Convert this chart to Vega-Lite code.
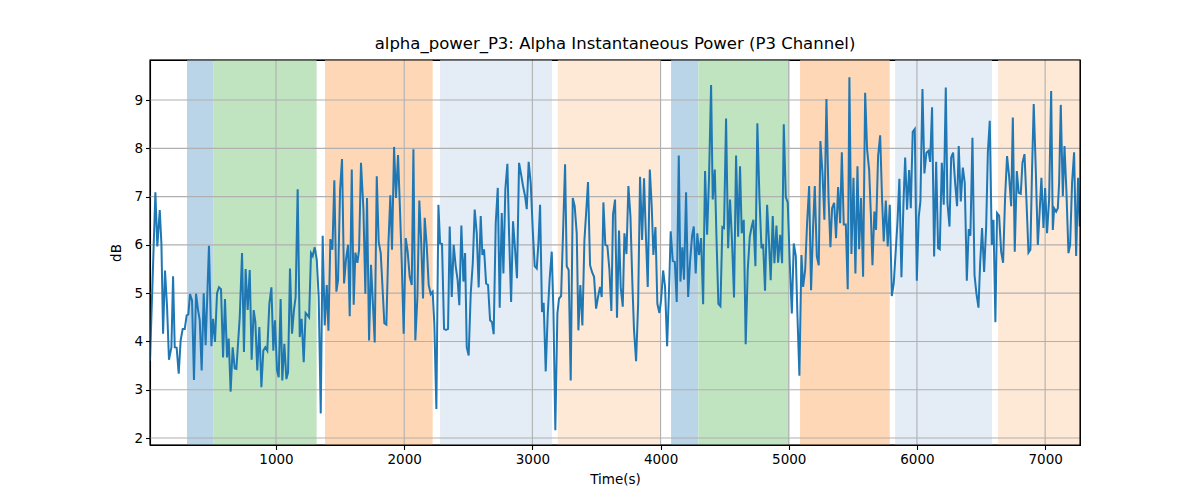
{
  "$schema": "https://vega.github.io/schema/vega-lite/v6.json",
  "width": 930,
  "height": 385,
  "autosize": {"type": "none"},
  "padding": {"left": 150, "top": 60, "right": 120, "bottom": 55},
  "title": {"text": "alpha_power_P3: Alpha Instantaneous Power (P3 Channel)", "font": "DejaVu Sans", "fontSize": 16.5, "fontWeight": "normal", "color": "black", "offset": 7, "anchor": "middle"},
  "config": {
    "view": {"stroke": "black", "strokeWidth": 1.1},
    "axis": {"grid": false, "domainColor": "black", "tickColor": "black", "tickSize": 4.5, "tickWidth": 1.1, "domainWidth": 1.1, "labelFont": "DejaVu Sans", "labelFontSize": 13.5, "labelColor": "black", "titleFont": "DejaVu Sans", "titleFontSize": 13.5, "titleFontWeight": "normal", "titleColor": "black", "labelPadding": 3}
  },
  "datasets": {
    "spans": [
      {"start": 306, "end": 514, "phase": "P1"},
      {"start": 514, "end": 1317, "phase": "P2"},
      {"start": 1382, "end": 2222, "phase": "P3"},
      {"start": 2280, "end": 3153, "phase": "P4"},
      {"start": 3198, "end": 4004, "phase": "P5"},
      {"start": 4082, "end": 4295, "phase": "P1"},
      {"start": 4295, "end": 5005, "phase": "P2"},
      {"start": 5088, "end": 5788, "phase": "P3"},
      {"start": 5830, "end": 6586, "phase": "P4"},
      {"start": 6633, "end": 7272, "phase": "P5"}
    ],
    "xgrid": [{"g": 1000}, {"g": 2000}, {"g": 3000}, {"g": 4000}, {"g": 5000}, {"g": 6000}, {"g": 7000}],
    "ygrid": [{"g": 2}, {"g": 3}, {"g": 4}, {"g": 5}, {"g": 6}, {"g": 7}, {"g": 8}, {"g": 9}],
    "frame": [{"x0": 17, "x1": 7272, "y0": 1.855, "y1": 9.83}],
    "series": [
      {"t":17,"v":3.6},{"t":59,"v":7.09},{"t":74,"v":5.97},{"t":93,"v":6.72},{"t":106,"v":6.03},{"t":119,"v":4.16},{"t":134,"v":5.47},{"t":150,"v":4.72},{"t":165,"v":3.62},{"t":184,"v":3.88},{"t":197,"v":5.35},{"t":210,"v":3.88},{"t":225,"v":3.87},{"t":241,"v":3.33},{"t":256,"v":4.02},{"t":272,"v":4.26},{"t":288,"v":4.26},{"t":303,"v":4.54},{"t":316,"v":4.56},{"t":329,"v":4.98},{"t":345,"v":4.85},{"t":360,"v":3.2},{"t":376,"v":4.99},{"t":392,"v":4.65},{"t":405,"v":4.44},{"t":420,"v":3.4},{"t":436,"v":5.0},{"t":451,"v":3.92},{"t":477,"v":5.98},{"t":496,"v":3.9},{"t":509,"v":4.47},{"t":524,"v":3.99},{"t":540,"v":5.0},{"t":555,"v":5.12},{"t":571,"v":5.08},{"t":587,"v":3.67},{"t":602,"v":4.88},{"t":618,"v":3.67},{"t":631,"v":4.06},{"t":646,"v":2.96},{"t":662,"v":3.88},{"t":678,"v":3.44},{"t":691,"v":3.43},{"t":717,"v":4.5},{"t":735,"v":5.83},{"t":750,"v":3.78},{"t":763,"v":5.5},{"t":779,"v":4.65},{"t":795,"v":5.48},{"t":810,"v":3.62},{"t":826,"v":4.65},{"t":839,"v":4.4},{"t":854,"v":3.4},{"t":870,"v":4.3},{"t":886,"v":3.05},{"t":901,"v":3.81},{"t":917,"v":3.88},{"t":932,"v":3.81},{"t":948,"v":4.78},{"t":964,"v":5.12},{"t":979,"v":3.81},{"t":992,"v":4.44},{"t":1008,"v":3.4},{"t":1021,"v":3.26},{"t":1036,"v":4.88},{"t":1049,"v":3.19},{"t":1065,"v":3.95},{"t":1081,"v":3.22},{"t":1094,"v":3.36},{"t":1109,"v":5.51},{"t":1125,"v":4.16},{"t":1140,"v":4.65},{"t":1153,"v":4.92},{"t":1169,"v":7.15},{"t":1185,"v":4.09},{"t":1200,"v":4.47},{"t":1216,"v":3.57},{"t":1231,"v":4.59},{"t":1244,"v":4.55},
      {"t":1258,"v":4.5},{"t":1273,"v":5.83},{"t":1286,"v":5.77},{"t":1302,"v":5.95},{"t":1318,"v":5.69},{"t":1333,"v":4.92},{"t":1349,"v":2.51},{"t":1364,"v":6.19},{"t":1380,"v":4.33},{"t":1396,"v":5.17},{"t":1409,"v":4.22},{"t":1424,"v":6.12},{"t":1440,"v":5.9},{"t":1455,"v":7.34},{"t":1471,"v":5.03},{"t":1484,"v":5.27},{"t":1500,"v":7.15},{"t":1515,"v":7.78},{"t":1531,"v":5.2},{"t":1546,"v":5.7},{"t":1562,"v":6.0},{"t":1575,"v":4.52},{"t":1591,"v":7.56},{"t":1606,"v":4.76},{"t":1619,"v":5.84},{"t":1635,"v":5.63},{"t":1648,"v":5.9},{"t":1663,"v":7.7},{"t":1682,"v":6.73},{"t":1697,"v":4.99},{"t":1710,"v":6.97},{"t":1726,"v":4.02},{"t":1741,"v":5.59},{"t":1757,"v":4.72},{"t":1770,"v":3.98},{"t":1786,"v":7.42},{"t":1801,"v":6.06},{"t":1817,"v":5.83},{"t":1832,"v":5.06},{"t":1845,"v":4.38},{"t":1861,"v":4.35},{"t":1877,"v":6.03},{"t":1892,"v":7.03},{"t":1905,"v":5.9},{"t":1921,"v":8.03},{"t":1936,"v":6.97},{"t":1952,"v":7.86},{"t":1968,"v":6.66},{"t":1981,"v":5.62},{"t":1996,"v":4.16},{"t":2012,"v":6.14},{"t":2027,"v":5.86},{"t":2043,"v":5.34},{"t":2059,"v":5.17},{"t":2072,"v":7.98},{"t":2087,"v":4.02},{"t":2103,"v":4.92},{"t":2118,"v":6.92},{"t":2131,"v":6.17},{"t":2147,"v":4.89},{"t":2160,"v":6.56},{"t":2176,"v":5.97},{"t":2191,"v":5.17},{"t":2207,"v":4.98},{"t":2222,"v":5.03},{"t":2235,"v":4.37},{"t":2251,"v":2.6},{"t":2267,"v":6.83},{"t":2280,"v":6.03},{"t":2295,"v":6.02},{"t":2311,"v":4.26},{"t":2326,"v":4.24},{"t":2342,"v":4.26},{"t":2355,"v":6.38},{"t":2371,"v":4.92},{"t":2386,"v":6.0},{"t":2402,"v":5.55},{"t":2417,"v":5.27},{"t":2430,"v":4.75},{"t":2446,"v":6.4},{"t":2462,"v":5.24},{"t":2475,"v":5.83},
      {"t":2488,"v":3.88},{"t":2503,"v":3.71},{"t":2519,"v":4.99},{"t":2535,"v":5.62},{"t":2550,"v":6.73},{"t":2566,"v":6.24},{"t":2581,"v":5.12},{"t":2597,"v":6.6},{"t":2610,"v":5.79},{"t":2623,"v":5.91},{"t":2639,"v":5.2},{"t":2654,"v":5.17},{"t":2670,"v":4.44},{"t":2685,"v":4.4},{"t":2698,"v":4.15},{"t":2714,"v":6.45},{"t":2730,"v":7.18},{"t":2745,"v":4.7},{"t":2761,"v":6.66},{"t":2774,"v":5.41},{"t":2789,"v":7.15},{"t":2805,"v":7.68},{"t":2818,"v":6.24},{"t":2834,"v":4.82},{"t":2849,"v":6.49},{"t":2865,"v":5.9},{"t":2880,"v":5.31},{"t":2896,"v":7.7},{"t":2912,"v":7.46},{"t":2927,"v":7.22},{"t":2943,"v":7.01},{"t":2956,"v":6.74},{"t":2971,"v":7.72},{"t":2987,"v":7.28},{"t":3003,"v":6.31},{"t":3018,"v":5.56},{"t":3034,"v":5.51},{"t":3047,"v":6.03},{"t":3060,"v":6.83},{"t":3075,"v":4.61},{"t":3088,"v":4.8},{"t":3104,"v":3.38},{"t":3120,"v":4.58},{"t":3135,"v":5.31},{"t":3151,"v":5.86},{"t":3164,"v":4.65},{"t":3179,"v":2.16},{"t":3195,"v":4.58},{"t":3208,"v":4.89},{"t":3224,"v":4.94},{"t":3239,"v":6.24},{"t":3255,"v":7.67},{"t":3268,"v":5.56},{"t":3283,"v":5.48},{"t":3299,"v":3.19},{"t":3315,"v":6.97},{"t":3330,"v":6.8},{"t":3346,"v":6.24},{"t":3359,"v":4.23},{"t":3374,"v":5.17},{"t":3390,"v":4.33},{"t":3406,"v":6.1},{"t":3421,"v":6.73},{"t":3434,"v":7.3},{"t":3450,"v":5.58},{"t":3465,"v":5.44},{"t":3481,"v":5.34},{"t":3497,"v":4.68},{"t":3512,"v":4.92},{"t":3528,"v":5.13},{"t":3541,"v":4.92},{"t":3554,"v":6.88},{"t":3569,"v":6.0},{"t":3585,"v":5.98},{"t":3601,"v":5.48},{"t":3616,"v":4.63},{"t":3629,"v":6.63},{"t":3645,"v":6.94},{"t":3660,"v":4.49},{"t":3676,"v":6.3},
      {"t":3689,"v":5.12},{"t":3705,"v":4.72},{"t":3718,"v":6.24},{"t":3734,"v":5.81},{"t":3749,"v":7.22},{"t":3765,"v":6.59},{"t":3780,"v":5.2},{"t":3793,"v":4.23},{"t":3809,"v":3.59},{"t":3825,"v":4.78},{"t":3840,"v":7.41},{"t":3856,"v":6.1},{"t":3871,"v":7.38},{"t":3884,"v":6.31},{"t":3900,"v":5.13},{"t":3916,"v":7.56},{"t":3931,"v":6.8},{"t":3944,"v":5.79},{"t":3960,"v":6.37},{"t":3975,"v":4.78},{"t":3991,"v":4.59},{"t":4004,"v":4.85},{"t":4020,"v":5.47},{"t":4035,"v":5.13},{"t":4051,"v":3.9},{"t":4066,"v":5.06},{"t":4079,"v":6.28},{"t":4095,"v":5.67},{"t":4111,"v":5.65},{"t":4126,"v":4.82},{"t":4142,"v":7.85},{"t":4155,"v":5.24},{"t":4170,"v":5.95},{"t":4183,"v":5.28},{"t":4199,"v":7.09},{"t":4215,"v":4.92},{"t":4230,"v":5.65},{"t":4246,"v":6.19},{"t":4259,"v":6.38},{"t":4274,"v":5.41},{"t":4287,"v":6.24},{"t":4300,"v":5.79},{"t":4316,"v":6.14},{"t":4332,"v":4.77},{"t":4347,"v":7.53},{"t":4363,"v":6.21},{"t":4378,"v":7.39},{"t":4394,"v":9.31},{"t":4407,"v":6.94},{"t":4423,"v":7.56},{"t":4436,"v":6.17},{"t":4451,"v":4.78},{"t":4467,"v":4.73},{"t":4482,"v":6.37},{"t":4495,"v":6.35},{"t":4511,"v":8.62},{"t":4527,"v":5.93},{"t":4542,"v":6.94},{"t":4558,"v":6.03},{"t":4573,"v":4.91},{"t":4589,"v":7.85},{"t":4605,"v":6.17},{"t":4620,"v":7.63},{"t":4633,"v":6.24},{"t":4649,"v":6.52},{"t":4664,"v":3.94},{"t":4680,"v":5.48},{"t":4696,"v":6.17},{"t":4711,"v":6.38},{"t":4724,"v":6.52},{"t":4740,"v":5.56},{"t":4755,"v":8.52},{"t":4771,"v":7.01},{"t":4787,"v":5.93},{"t":4800,"v":6.02},{"t":4815,"v":5.05},{"t":4831,"v":6.83},{"t":4844,"v":6.17},{"t":4859,"v":5.27},{"t":4875,"v":6.6},
      {"t":4888,"v":5.62},{"t":4904,"v":6.4},{"t":4917,"v":5.63},{"t":4933,"v":6.21},{"t":4948,"v":5.62},{"t":4961,"v":8.5},{"t":4977,"v":6.99},{"t":4992,"v":6.88},{"t":5008,"v":5.62},{"t":5024,"v":4.58},{"t":5039,"v":6.03},{"t":5055,"v":5.77},{"t":5068,"v":4.51},{"t":5083,"v":3.29},{"t":5099,"v":5.79},{"t":5112,"v":5.13},{"t":5128,"v":5.48},{"t":5143,"v":6.45},{"t":5159,"v":7.22},{"t":5174,"v":5.06},{"t":5190,"v":6.38},{"t":5203,"v":7.22},{"t":5219,"v":5.76},{"t":5234,"v":5.58},{"t":5247,"v":8.15},{"t":5263,"v":7.49},{"t":5278,"v":6.52},{"t":5294,"v":9.02},{"t":5310,"v":7.01},{"t":5325,"v":5.95},{"t":5338,"v":6.76},{"t":5354,"v":6.87},{"t":5369,"v":6.14},{"t":5385,"v":7.2},{"t":5401,"v":6.45},{"t":5414,"v":7.92},{"t":5429,"v":6.42},{"t":5445,"v":6.42},{"t":5460,"v":5.08},{"t":5473,"v":9.47},{"t":5489,"v":5.81},{"t":5505,"v":7.39},{"t":5520,"v":5.41},{"t":5536,"v":7.63},{"t":5549,"v":5.91},{"t":5564,"v":6.97},{"t":5580,"v":5.34},{"t":5596,"v":9.15},{"t":5611,"v":7.98},{"t":5627,"v":7.56},{"t":5640,"v":6.66},{"t":5653,"v":5.58},{"t":5668,"v":6.69},{"t":5681,"v":6.31},{"t":5697,"v":7.84},{"t":5713,"v":8.27},{"t":5728,"v":6.94},{"t":5741,"v":6.07},{"t":5757,"v":6.92},{"t":5772,"v":5.97},{"t":5788,"v":6.83},{"t":5804,"v":4.94},{"t":5819,"v":5.2},{"t":5835,"v":5.9},{"t":5848,"v":6.47},{"t":5863,"v":7.37},{"t":5879,"v":5.33},{"t":5895,"v":6.87},{"t":5908,"v":7.81},{"t":5923,"v":6.73},{"t":5939,"v":7.55},{"t":5952,"v":6.76},{"t":5967,"v":8.34},{"t":5983,"v":8.4},{"t":5999,"v":5.26},{"t":6014,"v":6.58},{"t":6027,"v":6.9},{"t":6043,"v":9.23},{"t":6058,"v":7.48},{"t":6074,"v":7.91},{"t":6090,"v":7.95},{"t":6103,"v":7.72},
      {"t":6118,"v":8.85},{"t":6134,"v":5.76},{"t":6150,"v":7.72},{"t":6165,"v":5.93},{"t":6178,"v":5.91},{"t":6194,"v":7.7},{"t":6209,"v":6.83},{"t":6225,"v":9.26},{"t":6238,"v":6.87},{"t":6254,"v":6.38},{"t":6267,"v":7.81},{"t":6282,"v":7.91},{"t":6298,"v":7.28},{"t":6313,"v":6.8},{"t":6326,"v":8.05},{"t":6342,"v":6.9},{"t":6358,"v":7.6},{"t":6373,"v":7.28},{"t":6389,"v":5.26},{"t":6404,"v":6.33},{"t":6417,"v":6.19},{"t":6433,"v":8.22},{"t":6449,"v":5.38},{"t":6464,"v":4.99},{"t":6480,"v":4.7},{"t":6493,"v":5.62},{"t":6508,"v":6.35},{"t":6524,"v":5.44},{"t":6540,"v":6.38},{"t":6553,"v":7.91},{"t":6568,"v":8.57},{"t":6584,"v":6.0},{"t":6597,"v":6.52},{"t":6612,"v":4.4},{"t":6625,"v":6.66},{"t":6641,"v":6.6},{"t":6657,"v":5.86},{"t":6672,"v":5.63},{"t":6688,"v":7.01},{"t":6703,"v":7.84},{"t":6719,"v":7.42},{"t":6735,"v":6.8},{"t":6748,"v":8.64},{"t":6763,"v":5.86},{"t":6779,"v":7.53},{"t":6794,"v":7.08},{"t":6810,"v":7.06},{"t":6823,"v":7.7},{"t":6839,"v":7.88},{"t":6854,"v":6.94},{"t":6870,"v":5.84},{"t":6885,"v":5.9},{"t":6898,"v":7.56},{"t":6911,"v":8.92},{"t":6927,"v":7.56},{"t":6943,"v":6.0},{"t":6958,"v":6.73},{"t":6971,"v":7.39},{"t":6987,"v":6.35},{"t":7000,"v":7.18},{"t":7015,"v":6.24},{"t":7031,"v":6.94},{"t":7047,"v":9.19},{"t":7060,"v":6.31},{"t":7070,"v":6.76},{"t":7086,"v":6.69},{"t":7099,"v":6.76},{"t":7109,"v":7.28},{"t":7122,"v":8.9},{"t":7138,"v":7.01},{"t":7151,"v":8.05},{"t":7166,"v":7.11},{"t":7182,"v":5.83},{"t":7195,"v":6.0},{"t":7210,"v":7.28},{"t":7226,"v":7.92},{"t":7242,"v":5.77},{"t":7257,"v":7.39},{"t":7270,"v":6.38}
    ]
  },
  "layer": [
    {
      "data": {"name": "spans"},
      "mark": {"type": "rect"},
      "encoding": {
        "x": {"field": "start", "type": "quantitative", "scale": {"domain": [17, 7272], "nice": false, "zero": false}, "axis": {"values": [1000, 2000, 3000, 4000, 5000, 6000, 7000], "format": "d", "title": "Time(s)", "titlePadding": 6, "labelFlush": false}},
        "x2": {"field": "end"},
        "fill": {"field": "phase", "type": "nominal", "legend": null, "scale": {"domain": ["P1", "P2", "P3", "P4", "P5"], "range": ["#bad4e8", "#c0e3c0", "#fed8b6", "#e4ecf6", "#fee8d6"]}}
      }
    },
    {
      "data": {"name": "xgrid"},
      "mark": {"type": "rule", "color": "#b0b0b0", "strokeWidth": 1.1},
      "encoding": {"x": {"field": "g", "type": "quantitative"}}
    },
    {
      "data": {"name": "ygrid"},
      "mark": {"type": "rule", "color": "#b0b0b0", "strokeWidth": 1.1},
      "encoding": {"y": {"field": "g", "type": "quantitative"}}
    },
    {
      "data": {"name": "series"},
      "mark": {"type": "line", "color": "#1f77b4", "strokeWidth": 2, "clip": true},
      "encoding": {
        "x": {"field": "t", "type": "quantitative"},
        "y": {"field": "v", "type": "quantitative", "scale": {"domain": [1.855, 9.83], "nice": false, "zero": false}, "axis": {"values": [2, 3, 4, 5, 6, 7, 8, 9], "title": "dB", "titlePadding": 10, "labelFlush": false}}
      }
    },
    {
      "data": {"name": "frame"},
      "mark": {"type": "rect", "fill": null, "stroke": "black", "strokeWidth": 1.1},
      "encoding": {
        "x": {"field": "x0", "type": "quantitative"},
        "x2": {"field": "x1"},
        "y": {"field": "y0", "type": "quantitative"},
        "y2": {"field": "y1"}
      }
    }
  ]
}
